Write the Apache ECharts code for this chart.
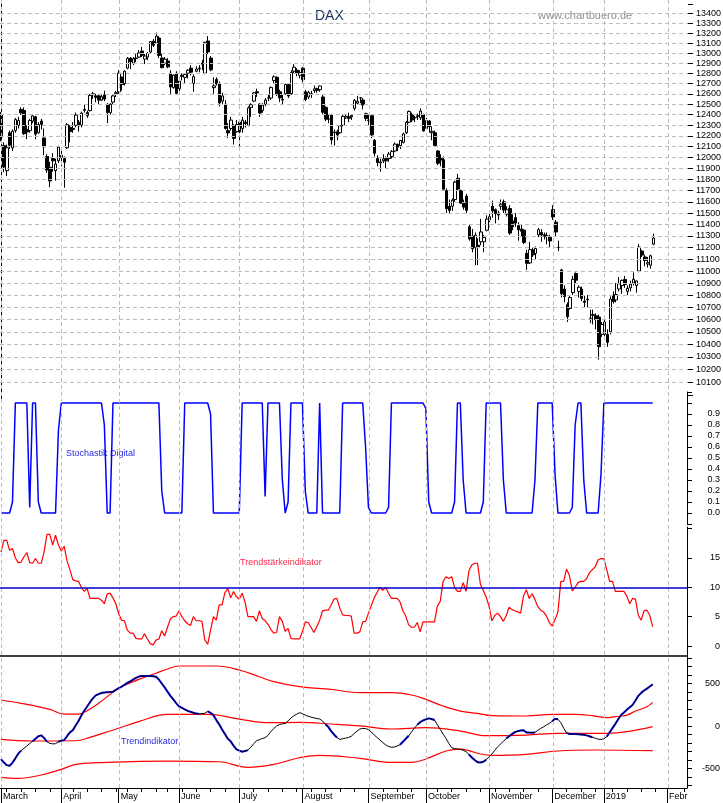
<!DOCTYPE html>
<html><head><meta charset="utf-8">
<script src="https://cdn.jsdelivr.net/npm/echarts@6/dist/echarts.min.js"></script>
<style>html,body{margin:0;padding:0;background:#fff}#c{width:723px;height:803px}</style>
</head><body><div id="c"></div>
<script>
// ---------- data ----------
const monthLabels = ['March','April','May','June','July','August','September','October','November','December','2019','Febr'];
const monthStarts = [0,21,41,62,83,105,128,148,170,192,210,232];
const weekStarts = [2,7,12,17,25,30,35,40,44,49,54,58,63,68,73,78,88,93,98,103,108,113,118,123,133,138,143,152,157,162,167,172,177,182,187,197,202,207,213,218,223,228,238];
const priceTicks = [10100,10200,10300,10400,10500,10600,10700,10800,10900,11000,11100,11200,11300,11400,11500,11600,11700,11800,11900,12000,12100,12200,12300,12400,12500,12600,12700,12800,12900,13000,13100,13200,13300,13400];
const priceTickMarks = [10000,10100,10200,10300,10400,10500,10600,10700,10800,10900,11000,11100,11200,11300,11400,11500,11600,11700,11800,11900,12000,12100,12200,12300,12400,12500,12600,12700,12800,12900,13000,13100,13200,13300,13400,13500];
const stochTicks = [0,0.1,0.2,0.3,0.4,0.5,0.6,0.7,0.8,0.9];
const tsLabels = [0,5,10,15];
const trendLabels = [-500,0,500];

// DAX daily candles: [open, high, low, close]
const dax = [
// March
[12400,12425,12150,12190],[12110,12140,11866,11914],[11880,12120,11831,12090],[12230,12250,12080,12113],[12090,12260,12060,12245],
[12250,12370,12230,12355],[12300,12380,12270,12346],[12450,12470,12400,12418],[12440,12470,12210,12221],[12260,12300,12170,12237],
[12250,12360,12230,12345],[12340,12400,12320,12389],[12380,12390,12170,12217],[12230,12330,12220,12307],[12340,12360,12260,12309],
[12180,12270,12020,12100],[12010,12030,11860,11886],[11910,11960,11730,11787],[11990,12040,11870,11970],[11880,11990,11790,11940],
[11970,12110,11950,12096],
// April
[12020,12060,11920,12002],[11990,12010,11726,11957],[12090,12320,12080,12305],[12280,12300,12140,12241],[12270,12330,12230,12261],
[12300,12420,12280,12397],[12330,12350,12240,12293],[12300,12430,12280,12415],[12450,12500,12420,12442],[12420,12440,12370,12391],
[12440,12600,12430,12585],[12600,12620,12550,12591],[12580,12600,12520,12567],[12580,12600,12500,12540],[12540,12600,12530,12572],
[12590,12630,12530,12550],[12500,12510,12320,12422],[12420,12510,12400,12500],[12520,12590,12500,12580],[12600,12630,12570,12612],
// May
[12620,12830,12600,12802],[12760,12770,12630,12690],[12700,12830,12680,12820],[12850,12960,12840,12948],[12950,12960,12840,12912],
[12900,12960,12880,12943],[12950,13000,12910,12946],[12960,13030,12950,13001],[13020,13060,12960,12977],[12940,12990,12890,12970],
[12960,13010,12930,12996],[13010,13120,13000,13115],[13120,13140,13060,13077],[13100,13205,13090,13169],[13150,13170,12950,12976],
[12950,12990,12850,12855],[12900,12960,12880,12938],[12920,12950,12850,12863],[12800,12830,12600,12666],[12660,12790,12650,12783],
[12800,12820,12600,12605],
// June
[12650,12760,12620,12724],[12780,12800,12730,12770],[12760,12800,12700,12787],[12800,12840,12750,12830],[12850,12880,12780,12811],
[12700,12790,12620,12767],[12820,12870,12810,12842],[12850,12880,12810,12843],[12900,12930,12830,12890],[12800,13110,12790,13107],
[13120,13170,12990,13011],[12950,12970,12820,12834],[12660,12760,12600,12677],[12740,12760,12680,12695],[12700,12720,12480,12512],
[12530,12610,12500,12580],[12500,12540,12260,12270],[12250,12320,12180,12228],[12270,12380,12250,12349],[12300,12310,12120,12177],
[12240,12350,12230,12306],
// July
[12330,12340,12100,12238],[12270,12380,12230,12349],[12330,12350,12280,12317],[12300,12480,12290,12465],[12470,12510,12380,12496],
[12530,12620,12520,12609],[12620,12650,12570,12609],[12500,12510,12380,12417],[12440,12510,12420,12492],[12500,12560,12480,12541],
[12560,12590,12530,12561],[12560,12670,12540,12662],[12730,12780,12700,12765],[12760,12770,12580,12600],[12620,12640,12520,12561],
[12540,12600,12500,12548],[12600,12700,12590,12690],[12690,12700,12560,12579],[12600,12830,12590,12809],[12820,12890,12800,12860],
[12830,12850,12770,12798],[12780,12830,12750,12806],
// August
[12850,12860,12710,12737],[12620,12640,12530,12546],[12570,12630,12550,12615],[12600,12630,12560,12598],[12630,12680,12610,12648],
[12650,12660,12610,12634],[12640,12680,12620,12676],[12570,12590,12400,12424],[12470,12480,12340,12358],[12360,12400,12320,12358],
[12400,12410,12120,12163],[12230,12260,12110,12237],[12240,12260,12160,12210],[12230,12300,12220,12295],[12300,12400,12290,12384],
[12370,12400,12360,12385],[12380,12420,12330,12366],[12380,12400,12350,12394],[12460,12550,12440,12538],[12510,12580,12500,12527],
[12560,12570,12510,12562],[12540,12560,12450,12494],[12410,12420,12340,12364],
// September
[12350,12400,12300,12346],[12390,12400,12180,12210],[12160,12170,12010,12040],[11990,12020,11920,11955],[11950,11990,11870,11960],
[11970,12030,11950,11987],[11990,12010,11900,11970],[11990,12050,11960,12032],[12010,12070,11990,12055],[12060,12140,12050,12124],
[12120,12130,12060,12096],[12110,12160,12080,12158],[12140,12230,12130,12219],[12230,12340,12220,12326],[12330,12440,12320,12431],
[12400,12420,12330,12350],[12370,12390,12330,12374],[12390,12410,12350,12385],[12370,12460,12350,12435],[12400,12410,12240,12247],
// October
[12270,12370,12260,12346],[12340,12350,12230,12287],[12230,12290,12160,12244],[12230,12250,12100,12111],[12060,12070,11930,11947],
[11990,12030,11920,11977],[11980,12010,11700,11712],[11700,11720,11500,11539],[11560,11620,11500,11523],[11560,11630,11520,11614],
[11620,11790,11600,11776],[11810,11850,11700,11715],[11700,11710,11580,11589],[11590,11620,11530,11553],[11650,11670,11500,11524],
[11380,11400,11260,11274],[11300,11360,11160,11191],[11200,11330,11050,11307],[11220,11280,11050,11201],[11250,11450,11220,11335],
[11250,11310,11160,11287],[11350,11480,11340,11447],
// November
[11440,11500,11420,11468],[11560,11610,11460,11519],[11530,11540,11410,11495],[11500,11520,11440,11484],[11560,11620,11530,11579],
[11600,11620,11500,11527],[11490,11560,11470,11529],[11540,11570,11310,11325],[11430,11490,11350,11380],[11460,11500,11380,11412],
[11390,11420,11260,11353],[11360,11400,11300,11341],[11350,11360,11230,11244],[11150,11180,11010,11066],[11070,11250,11060,11183],
[11180,11200,11120,11138],[11150,11210,11100,11192],[11310,11370,11290,11354],[11330,11360,11250,11309],[11310,11330,11270,11299],
[11300,11330,11230,11298],[11290,11310,11200,11257],
// December
[11530,11570,11440,11465],[11420,11440,11300,11335],[11200,11260,11170,11200],[11010,11020,10780,10811],[10850,10880,10740,10788],
[10720,10740,10580,10622],[10690,10800,10680,10780],[10820,10960,10800,10931],[10980,10990,10900,10924],[10830,10880,10780,10865],
[10850,10870,10750,10772],[10750,10800,10700,10740],[10760,10800,10700,10766],[10610,10680,10570,10611],[10640,10680,10560,10634],
[10630,10650,10520,10600],[10620,10640,10279,10382],[10480,10580,10460,10559],
// January
[10480,10600,10440,10580],[10480,10520,10380,10416],[10500,10790,10480,10767],[10800,10830,10730,10747],[10760,10900,10740,10804],
[10850,10950,10830,10893],[10880,10930,10810,10922],[10930,10960,10860,10888],[10830,10880,10800,10856],[10860,10920,10830,10891],
[10900,10990,10880,10932],[10880,10920,10820,10918],[11000,11230,10990,11205],[11170,11180,11120,11136],[11120,11140,11040,11090],
[11060,11120,11030,11071],[11050,11140,11020,11130],[11230,11320,11220,11282]
];

const stoch = [
0,0,0,0,0.1,1,1,1,1,1,
0.05,1,1,0.1,0,0,0,0,0,0,
0.75,1,1,1,1,1,1,1,1,1,
1,1,1,1,1,1,0.8,0,0,1,
1,1,1,1,1,1,1,1,1,1,
1,1,1,1,1,1,0.2,0,0,0,
0,0,0,0,1,1,1,1,1,1,
1,1,1,0.9,0,0,0,0,0,0,
0,0,0,0,1,1,1,1,1,1,
1,1,0.15,1,1,1,1,1,0.3,0,
0.1,1,1,1,1,1,0.2,0,0,0,
0,1,0,0,0,0,0,0,0,1,
1,1,1,1,1,1,1,0.6,0.05,0,
0,0,0,0,0,0.05,1,1,1,1,
1,1,1,1,1,1,1,1,0.95,0.1,
0,0,0,0,0,0,0,0,0.1,1,
1,0.3,0,0,0,0,0,0,0.1,1,
1,1,1,1,1,0.3,0,0,0,0,
0,0,0,0,0,0,0.3,1,1,1,
1,1,1,0.35,0,0,0,0,0,0.05,
0.8,1,1,0.3,0,0,0,0,0,0.35,
1,1,1,1,1,1,1,1,1,1,
1,1,1,1,1,1,1,1
];

const trendStrength = [
16,18,18,16.3,16.6,15,14.2,14.3,15.2,15.9,
14.2,14.1,14.9,14.1,14.1,16,19,19,17.2,18.9,
17.2,16.2,17,14.5,13,11.3,11.1,11,10,9.3,
9.8,8.1,8.1,8.1,8.1,7.8,7.2,8.9,9,8.2,
7.2,5.5,4.4,4.3,2.7,2.2,2.2,1.3,1.2,1.2,
2.1,1.2,0.4,0.2,1,1.2,2.6,1.7,3.2,4.6,
5,5.1,6,5,4.3,3.8,3.5,5,4.3,4.3,
4.2,1,0.3,2.7,5,4.4,7,7,9.1,9.8,
8.2,9.3,8.4,8,9,7.5,5,5,5,4.2,
6,4.7,4.3,3.7,2.8,2.2,2.3,5,4.2,2.5,
3,1.3,1.2,1.2,1.2,2.5,4.1,4,3.2,2.3,
3.3,4.4,6,6.1,6.1,7,8,8.1,6.5,5.3,
5.2,5.2,5.1,2.2,2.2,2.4,4.1,4.2,5.6,6.9,
8.2,9.1,10,9.5,10,9,8.1,8.1,8.1,7.5,
6,5.1,3.6,3.2,3.2,4,2.4,4.1,4.1,4.1,
4.1,4.1,6.8,7.6,11,11.8,11.5,11.8,10,9.3,
9.3,10.8,9.3,12.8,13.8,14.1,14.1,10.5,9.5,8.3,
6.8,4.3,5.2,5.6,5,4.2,5.2,6.6,6.2,6,
5.8,5.6,8.5,9.6,8.1,8.9,7.9,6.7,6.1,5.8,
5.1,4,3.4,4.5,5.8,11,11,13.1,12,9.4,
10,10.8,11,11,11.5,12.5,13,13.5,14.7,14.9,
14.9,13,11,11,9.3,9.3,9.3,9.3,8.5,7.2,
8.1,8,5.2,4.4,6,6.1,5.2,3.3
];

const trend = [
-390,-430,-460,-468,-430,-380,-325,-290,-262,-235,
-205,-180,-150,-120,-110,-140,-185,-204,-210,-208,
-185,-171,-166,-120,-75,-50,5,60,125,180,
230,280,325,360,375,388,393,397,400,404,
425,445,463,485,507,525,545,565,582,588,
588,588,588,585,580,545,500,455,405,355,
315,270,230,215,195,178,167,157,146,142,
145,150,173,155,128,70,20,-40,-95,-150,
-180,-230,-275,-290,-302,-295,-283,-250,-210,-172,
-160,-148,-137,-110,-65,-30,0,18,25,30,
60,95,120,140,157,145,128,114,105,96,
88,82,60,20,-10,-60,-100,-135,-157,-150,
-143,-135,-120,-90,-60,-35,-28,-30,-42,-70,
-105,-135,-165,-195,-222,-240,-250,-247,-235,-220,
-185,-150,-115,-70,-25,15,45,65,78,90,
82,70,15,-40,-95,-145,-205,-255,-265,-270,
-275,-285,-302,-335,-370,-400,-425,-428,-420,-398,
-362,-330,-285,-245,-212,-180,-148,-120,-95,-72,
-60,-52,-50,-75,-77,-78,-75,-50,-28,-10,
12,31,55,85,80,40,-25,-80,-94,-94,
-94,-97,-100,-104,-110,-120,-133,-143,-155,-157,
-150,-125,-75,-25,25,80,130,160,190,220,
248,300,355,390,418,440,465,490
];

// trading-day ranges where the trend line is drawn in blue
const blueRanges = [[0,7],[11,16],[20,69],[72,86],[113,117],[139,142],[145,151],[163,169],[176,186],[192,194],[197,206],[211,227]];

// red bands: [day index, value]
const upperBand = [[0,306],[7,267],[17,196],[22,141],[27,141],[30,180],[34,267],[41,443],[48,549],[54,620],[58,671],[62,706],[75,706],[83,659],[90,580],[95,522],[104,463],[115,431],[125,392],[136,392],[143,365],[148,314],[154,235],[160,176],[166,149],[171,122],[183,118],[192,137],[200,137],[206,122],[211,98],[214,110],[218,129],[221,176],[225,227],[227,278]];
const midBand = [[0,-157],[11,-176],[26,-173],[31,-133],[38,-59],[48,51],[58,137],[72,137],[83,82],[93,39],[104,43],[115,24],[125,2],[136,-35],[148,-20],[160,-59],[169,-114],[183,-106],[194,-86],[211,-86],[218,-67],[227,-8]];
const lowerBand = [[0,-604],[6,-616],[14,-576],[21,-510],[26,-451],[34,-431],[58,-412],[76,-420],[86,-486],[95,-451],[104,-373],[111,-345],[125,-380],[136,-427],[143,-427],[148,-388],[155,-294],[160,-271],[163,-290],[167,-329],[171,-345],[183,-333],[194,-294],[206,-282],[227,-290]];

// ---------- chart ----------
const XMIN = -0.35, XMAX = 238.96;
const PMIN = 9966, PMAX = 13539;
const FONT = 'Liberation Sans, Arial, sans-serif';
const GRID_DASH = {type:[4,3], color:'#bdbdbd', width:1};

const candleData = dax.map((r,i)=>[i, r[0], r[3], r[2], r[1]]);
const inBlue = i => blueRanges.some(r => i>=r[0] && i<=r[1]);
const blueData = trend.map((v,i)=> inBlue(i) ? [i,v] : [i,'-']);

const hiddenX = idx => ({type:'value', gridIndex:idx, min:XMIN, max:XMAX, show:false});

const option = {
  animation:false,
  backgroundColor:'#fff',
  textStyle:{fontFamily:FONT},
  grid:[
    {left:0, top:0, width:688, height:788},
    {left:0, top:0, width:688, height:400},
    {left:0, top:392, width:688, height:132},
    {left:0, top:527, width:688, height:129},
    {left:0, top:656, width:688, height:132}
  ],
  xAxis:[
    hiddenX(0), hiddenX(1), hiddenX(2),
    {type:'value', gridIndex:3, min:XMIN, max:XMAX, position:'bottom',
      axisLine:{show:true, onZero:false, lineStyle:{color:'#000', width:1.5}}, axisTick:{show:false}, axisLabel:{show:false}, splitLine:{show:false}},
    {type:'value', gridIndex:4, min:XMIN, max:XMAX, position:'bottom',
      axisLine:{show:true, onZero:false, lineStyle:{color:'#000', width:1}},
      axisTick:{show:true, length:15, customValues:monthStarts, lineStyle:{color:'#000'}},
      axisLabel:{show:true, customValues:monthStarts, formatter:v=>monthLabels[monthStarts.indexOf(Math.round(v))],
        align:'left', padding:[0,0,0,2], margin:4, fontSize:9, color:'#000', fontFamily:FONT},
      splitLine:{show:false}},
    {type:'value', gridIndex:4, min:XMIN, max:XMAX, position:'bottom',
      axisLine:{show:false, onZero:false}, axisTick:{show:true, length:4, customValues:weekStarts, lineStyle:{color:'#000'}},
      axisLabel:{show:false}, splitLine:{show:false}}
  ],
  yAxis:[
    {type:'value', gridIndex:0, min:0, max:1, show:false},
    {type:'log', gridIndex:1, min:PMIN, max:PMAX, position:'right',
      axisLine:{show:true, lineStyle:{color:'#000'}}, axisTick:{show:false}, axisLabel:{show:false}, splitLine:{show:false}},
    {type:'value', gridIndex:2, min:-0.1, max:1.1, interval:0.1, position:'right',
      axisLine:{show:true, onZero:false, lineStyle:{color:'#000'}}, axisTick:{show:true, length:5, lineStyle:{color:'#000'}},
      axisLabel:{show:true, customValues:stochTicks, formatter:v=>Number(v).toFixed(1), align:'right', margin:33, fontSize:9, color:'#000', fontFamily:FONT},
      splitLine:{show:false}},
    {type:'value', gridIndex:3, min:-1.7, max:20.27, position:'right',
      axisLine:{show:true, onZero:false, lineStyle:{color:'#000'}}, axisTick:{show:true, length:5, customValues:[0,5,10,15,20], lineStyle:{color:'#000'}},
      axisLabel:{show:true, customValues:tsLabels, align:'right', margin:33, fontSize:9, color:'#000', fontFamily:FONT},
      splitLine:{show:false}},
    {type:'value', gridIndex:4, min:-729, max:823.5, position:'right',
      axisLine:{show:true, onZero:false, lineStyle:{color:'#000'}}, axisTick:{show:true, length:5, customValues:[-700,-600,-500,-400,-300,-200,-100,0,100,200,300,400,500,600,700,800], lineStyle:{color:'#000'}},
      axisLabel:{show:true, customValues:trendLabels, align:'right', margin:33, fontSize:9, color:'#000', fontFamily:FONT},
      splitLine:{show:false}},
    // tick-mark helper for the logarithmic price axis (same span, expressed in log10 units)
    {type:'value', gridIndex:1, min:Math.log10(PMIN), max:Math.log10(PMAX), position:'right',
      axisLine:{show:false, onZero:false}, axisTick:{show:true, length:5, customValues:priceTickMarks.map(v=>Math.log10(v)), lineStyle:{color:'#000'}},
      axisLabel:{show:false}, splitLine:{show:false}}
  ],
  series:[
    {type:'line', xAxisIndex:0, yAxisIndex:0, data:[], z:0, silent:true,
      markLine:{symbol:'none', silent:true, label:{show:false}, lineStyle:GRID_DASH, emphasis:{disabled:true},
        data:monthStarts.map(v=>({xAxis:v}))}},
    {type:'line', xAxisIndex:1, yAxisIndex:1, data:[], z:1, silent:true,
      markLine:{symbol:'none', silent:true, lineStyle:GRID_DASH, emphasis:{disabled:true},
        label:{show:true, position:'end', distance:8, formatter:p=>String(p.value), fontSize:9, color:'#000', fontFamily:FONT},
        data:priceTicks.map(v=>({yAxis:v}))}},
    {type:'candlestick', xAxisIndex:1, yAxisIndex:1, data:candleData, encode:{x:0, y:[1,2,3,4]},
      barWidth:3, z:3,
      itemStyle:{color:'#fff', color0:'#000', borderColor:'#000', borderColor0:'#000', borderWidth:1}},
    {type:'line', xAxisIndex:2, yAxisIndex:2, data:stoch.map((v,i)=>[i,v]), showSymbol:false, symbol:'none',
      lineStyle:{color:'#0000ff', width:1.5}, z:3},
    {type:'line', xAxisIndex:3, yAxisIndex:3, data:trendStrength.map((v,i)=>[i,v]), showSymbol:false, symbol:'none',
      lineStyle:{color:'#ff0000', width:1.2}, z:3,
      markLine:{symbol:'none', silent:true, label:{show:false}, lineStyle:{type:'solid', color:'#0000cc', width:1.5}, emphasis:{disabled:true},
        data:[{yAxis:10}]}},
    {type:'line', xAxisIndex:4, yAxisIndex:4, data:upperBand, smooth:0.4, showSymbol:false, symbol:'none', lineStyle:{color:'#ff0000', width:1.2}, z:3},
    {type:'line', xAxisIndex:4, yAxisIndex:4, data:midBand, smooth:0.4, showSymbol:false, symbol:'none', lineStyle:{color:'#ff0000', width:1.2}, z:3},
    {type:'line', xAxisIndex:4, yAxisIndex:4, data:lowerBand, smooth:0.4, showSymbol:false, symbol:'none', lineStyle:{color:'#ff0000', width:1.2}, z:3},
    {type:'line', xAxisIndex:4, yAxisIndex:4, data:blueData, showSymbol:false, symbol:'none', connectNulls:false, lineStyle:{color:'#0000ff', width:2}, z:4},
    {type:'line', xAxisIndex:4, yAxisIndex:4, data:trend.map((v,i)=>[i,v]), showSymbol:false, symbol:'none', lineStyle:{color:'#000', width:1}, z:5}
  ],
  graphic:[
    {type:'text', x:315, y:16, style:{text:'DAX', fontSize:14, fontFamily:FONT, fill:'#1f3566', verticalAlign:'middle'}},
    {type:'text', x:538, y:16, style:{text:'www.chartbuero.de', fontSize:11, fontFamily:FONT, fill:'#8a8e9a', verticalAlign:'middle'}},
    {type:'text', x:66, y:454, style:{text:'Stochastik Digital', fontSize:9, fontFamily:FONT, fill:'#2a2ae0', verticalAlign:'middle'}},
    {type:'text', x:240, y:563, style:{text:'Trendstärkeindikator', fontSize:9, fontFamily:FONT, fill:'#ff2a48', verticalAlign:'middle'}},
    {type:'text', x:121, y:742, style:{text:'Trendindikator', fontSize:9, fontFamily:FONT, fill:'#2a2ae0', verticalAlign:'middle'}}
  ]
};
const chart = echarts.init(document.getElementById('c'), null, {renderer:'canvas'});
chart.setOption(option);
</script>
</body></html>
